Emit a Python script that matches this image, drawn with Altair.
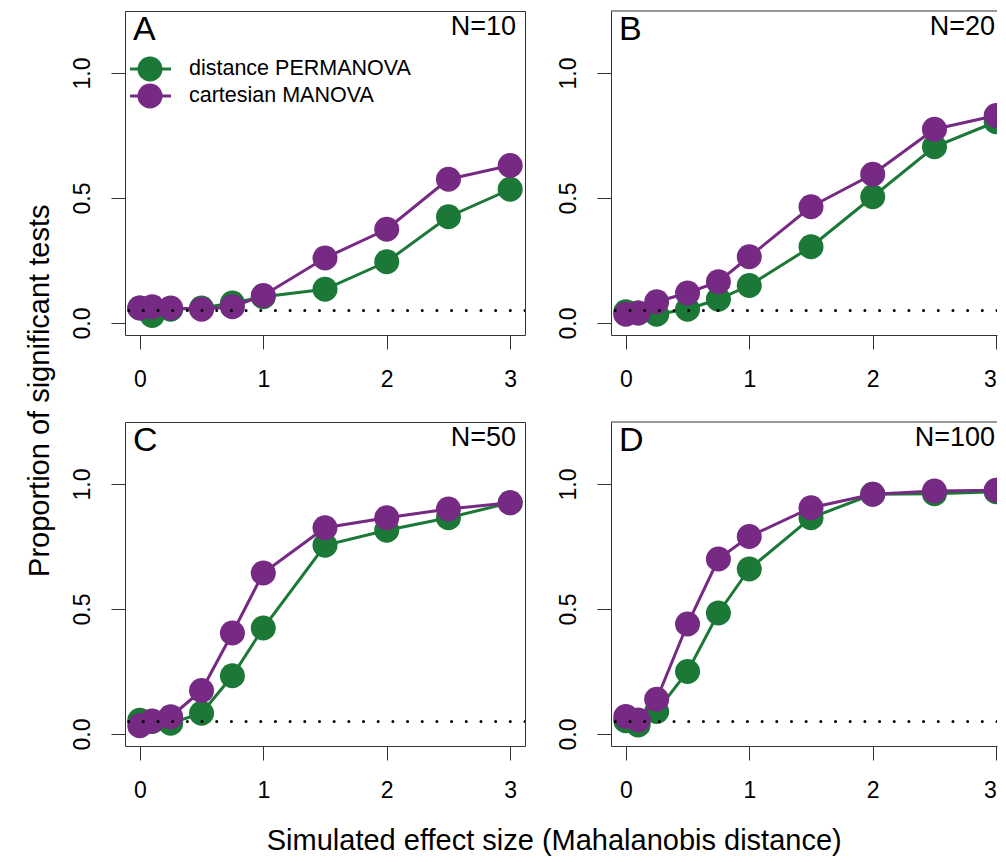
import altair as alt
import pandas as pd

# ---------------- data ----------------
effect = [0, 0.1, 0.25, 0.5, 0.75, 1, 1.5, 2, 2.5, 3]
methods = ["distance PERMANOVA", "cartesian MANOVA"]
panels = ["A", "B", "C", "D"]
sample_sizes = ["N=10", "N=20", "N=50", "N=100"]

perm_10 = [0.06, 0.03, 0.055, 0.06, 0.08, 0.105, 0.135, 0.245, 0.425, 0.535]
man_10 = [0.06, 0.065, 0.06, 0.055, 0.065, 0.11, 0.26, 0.375, 0.575, 0.63]
perm_20 = [0.045, 0.04, 0.035, 0.055, 0.095, 0.15, 0.305, 0.505, 0.705, 0.805]
man_20 = [0.035, 0.04, 0.085, 0.12, 0.165, 0.265, 0.465, 0.595, 0.775, 0.83]
perm_50 = [0.055, 0.05, 0.043, 0.083, 0.233, 0.424, 0.755, 0.815, 0.865, 0.925]
man_50 = [0.033, 0.052, 0.069, 0.174, 0.404, 0.644, 0.825, 0.865, 0.9, 0.925]
perm_100 = [0.053, 0.036, 0.09, 0.25, 0.484, 0.66, 0.865, 0.959, 0.961, 0.969]
man_100 = [0.07, 0.056, 0.139, 0.44, 0.70, 0.79, 0.905, 0.959, 0.972, 0.975]

alpha_level = [0.05]
x_ticks = [0, 1, 2, 3]
y_ticks = [0.0, 0.5, 1.0]

x_title = "Simulated effect size (Mahalanobis distance)"
y_title = "Proportion of significant tests"

series = {
    "A": (perm_10, man_10),
    "B": (perm_20, man_20),
    "C": (perm_50, man_50),
    "D": (perm_100, man_100),
}

rows = []
for p in panels:
    for m, vals in zip(methods, series[p]):
        for xv, yv in zip(effect, vals):
            rows.append({"panel": p, "method": m, "x": xv, "y": yv})
df = pd.DataFrame(rows)

# ---------------- style ----------------
GREEN = "#1B7837"
PURPLE = "#762A83"
FRAME = "#333333"
FONT = "Liberation Sans"
W = 400          # left panels
W_R = 386        # right panels (cut at the page edge, as in the original)
H = 324
PX_PER_UNIT = W / 3.24
GAP_COL = 86
GAP_ROW = 87

color_scale = alt.Scale(domain=methods, range=[GREEN, PURPLE])
y_scale = alt.Scale(domain=[-0.048, 1.248], nice=False, zero=False)


def x_axis(right):
    return alt.Axis(values=x_ticks, format="d", title=None, grid=False,
                    domain=right, domainColor=FRAME, domainWidth=1,
                    ticks=True, tickSize=14, tickColor=FRAME, tickWidth=1,
                    labelFontSize=23, labelFont=FONT, labelColor="black",
                    labelPadding=19, labelFlush=(3 if right else False))


def y_axis(right):
    return alt.Axis(values=y_ticks, format=".1f", title=None, grid=False,
                    domain=right, domainColor=FRAME, domainWidth=1,
                    ticks=True, tickSize=14, tickColor=FRAME, tickWidth=1,
                    labelFontSize=23, labelFont=FONT, labelColor="black",
                    labelAngle=270, labelAlign="center", labelBaseline="alphabetic",
                    labelPadding=22, labelFlush=False)


def panel(idx):
    p = panels[idx]
    right = idx in (1, 3)
    width = W_R if right else W
    x_max = -0.12 + width / PX_PER_UNIT
    x_scale = alt.Scale(domain=[-0.12, x_max], nice=False, zero=False)
    d = df[df.panel == p]
    base = alt.Chart(d)
    X = alt.X("x:Q", scale=x_scale, axis=x_axis(right))
    Y = alt.Y("y:Q", scale=y_scale, axis=y_axis(right))
    C = alt.Color("method:N", scale=color_scale, legend=None)
    layers = []
    for m in methods:
        sub = base.transform_filter(alt.datum.method == m)
        layers.append(sub.mark_line(strokeWidth=3, clip=True).encode(x=X, y=Y, color=C))
        layers.append(sub.mark_circle(size=625, opacity=1, clip=True).encode(x=X, y=Y, color=C))
    # reference level (dotted)
    layers.append(
        alt.Chart(pd.DataFrame({"y": alpha_level}))
        .mark_rule(color="black", strokeWidth=3, strokeDash=[0.01, 14.67],
                   strokeCap="round", clip=True)
        .encode(y=Y)
    )
    # panel letter and sample size
    layers.append(
        alt.Chart(pd.DataFrame({"t": [p]}))
        .mark_text(align="left", baseline="alphabetic", font=FONT, fontSize=34, color="black")
        .encode(text="t:N", x=alt.value(8), y=alt.value(29))
    )
    layers.append(
        alt.Chart(pd.DataFrame({"t": [sample_sizes[idx]]}))
        .mark_text(align="right", baseline="alphabetic", font=FONT, fontSize=27, color="black")
        .encode(text="t:N", x=alt.value(width - 2 if right else 391), y=alt.value(23.5))
    )
    if right:
        # top edge of the frame (the right edge lies beyond the page)
        layers.append(
            alt.Chart(pd.DataFrame({"t": [0]}))
            .mark_rule(color=FRAME, strokeWidth=1)
            .encode(x=alt.value(0), x2=alt.value(width), y=alt.value(0))
        )
    if idx == 0:
        for j, m in enumerate(methods):
            ld = alt.Chart(pd.DataFrame({"method": [m]}))
            yy = 58 + 27 * j
            layers.append(ld.mark_rule(strokeWidth=3).encode(
                x=alt.value(5), x2=alt.value(46), y=alt.value(yy), color=C))
            layers.append(ld.mark_circle(size=625, opacity=1).encode(
                x=alt.value(25), y=alt.value(yy), color=C))
            layers.append(ld.mark_text(align="left", baseline="middle", font=FONT,
                                       fontSize=21.5, color="black").encode(
                x=alt.value(64), y=alt.value(yy), text="method:N"))
    ch = alt.layer(*layers).properties(width=width, height=H)
    if right:
        ch = ch.properties(view=alt.ViewBackground(stroke="transparent"))
    return ch


grid = alt.concat(
    panel(0), panel(1), panel(2), panel(3),
    columns=2, spacing={"row": GAP_ROW, "column": GAP_COL}, bounds="flush",
    title=alt.TitleParams(x_title, orient="bottom", anchor="middle", font=FONT,
                          fontSize=29, fontWeight="normal", color="black",
                          offset=24, dx=20),
)
chart = alt.hconcat(
    grid,
    title=alt.TitleParams(y_title, orient="left", anchor="middle", font=FONT,
                          fontSize=29, fontWeight="normal", color="black",
                          offset=16, dx=42),
).properties(
    padding={"left": 17, "top": 2, "right": 0, "bottom": 0}
).configure_view(stroke=FRAME, strokeWidth=1)

chart.save("out.html", embed_options={"renderer": "svg", "actions": False})
